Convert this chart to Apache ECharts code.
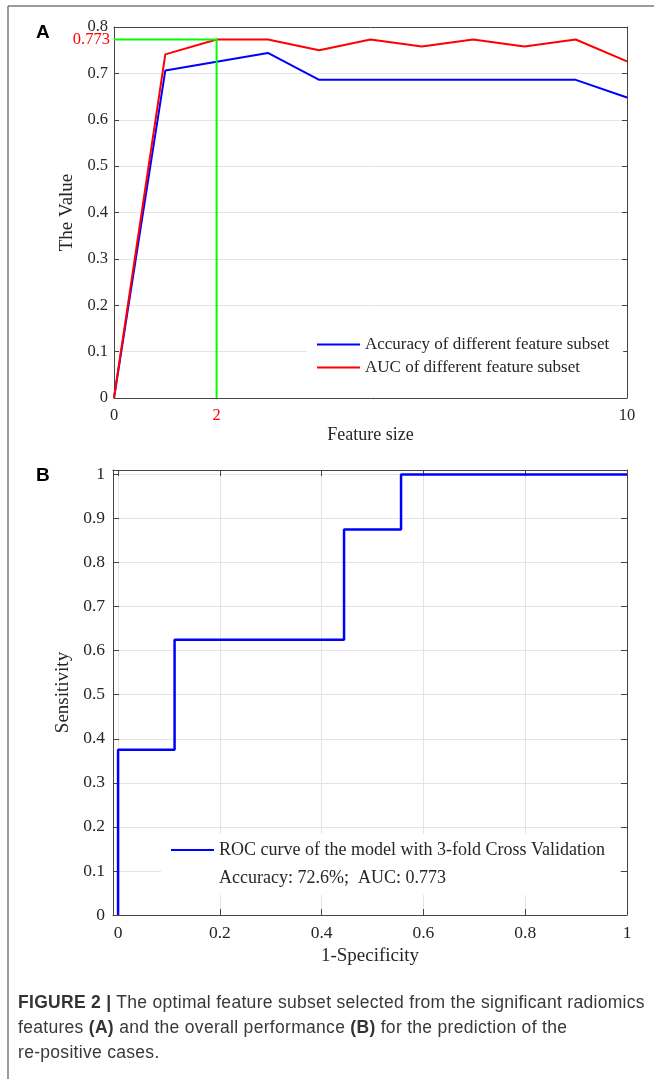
<!DOCTYPE html>
<html>
<head>
<meta charset="utf-8">
<script src="https://cdn.jsdelivr.net/npm/echarts@6/dist/echarts.min.js"></script>
<style>
  html, body { margin: 0; padding: 0; background: #fff; }
  #wrap { position: relative; width: 654px; height: 1079px; }
  #chart { width: 654px; height: 1079px; }
  #caption {
    position: absolute; left: 18px; top: 990px;
    font-family: 'Liberation Sans', Arial, sans-serif; font-size: 17.5px;
    letter-spacing: 0.3px; line-height: 25px; color: #383838; white-space: nowrap;
  }
  #caption b { color: #333; }
</style>
</head>
<body>
<div id="wrap">
  <div id="chart"></div>
  <div id="caption"><b>FIGURE 2 |</b> The optimal feature subset selected from the significant radiomics<br>features <b>(A)</b> and the overall performance <b>(B)</b> for the prediction of the<br>re-positive cases.</div>
</div>
<script>
// panel A: performance vs. size of feature subset
const featureSize = [0, 1, 2, 3, 4, 5, 6, 7, 8, 9, 10];
const accuracyA = [0, 0.706, 0.725, 0.744, 0.686, 0.686, 0.686, 0.686, 0.686, 0.686, 0.648];
const aucA = [0, 0.741, 0.773, 0.773, 0.750, 0.773, 0.758, 0.773, 0.758, 0.773, 0.726];
const bestSize = 2;
const bestAuc = 0.773;
const xTicksA = [0, 2, 10];

// panel B: ROC curve (3-fold CV)
const rocFpr = [0, 0, 0.111, 0.111, 0.444, 0.444, 0.556, 0.556, 1];
const rocTpr = [0, 0.375, 0.375, 0.625, 0.625, 0.875, 0.875, 1, 1];
const xTicksB = [0, 0.2, 0.4, 0.6, 0.8, 1];
const yTicksB = [0, 0.1, 0.2, 0.3, 0.4, 0.5, 0.6, 0.7, 0.8, 0.9, 1];

const legendA = ['Accuracy of different feature subset', 'AUC of different feature subset'];
const legendB = ['ROC curve of the model with 3-fold Cross Validation', 'Accuracy: 72.6%;  AUC: 0.773'];

const serif = 'Liberation Serif';
const sans = 'Liberation Sans';
const txt = '#262626';
const frame = '#444';
const gridCol = '#e4e4e4';

const labelA = { fontFamily: serif, fontSize: 16.5, color: txt };
const labelB = { fontFamily: serif, fontSize: 17.5, color: txt };

const chart = echarts.init(document.getElementById('chart'));

const option = {
  animation: false,
  backgroundColor: '#fff',
  grid: [
    { left: 114, top: 27, width: 513, height: 371 },
    { left: 113, top: 470, width: 514, height: 445 }
  ],
  xAxis: [
    {
      gridIndex: 0, type: 'value', min: 0, max: 10, position: 'bottom',
      axisLine: { show: true, lineStyle: { color: frame } },
      axisTick: { show: false },
      axisLabel: Object.assign({
        customValues: xTicksA, margin: 9,
        formatter: v => v === bestSize ? '{r|' + v + '}' : String(v),
        rich: { r: { color: '#ff0000', fontFamily: serif, fontSize: 16.5 } }
      }, labelA),
      splitLine: { show: false },
      name: 'Feature size', nameLocation: 'middle', nameGap: 28,
      nameTextStyle: { fontFamily: serif, fontSize: 18, color: txt }
    },
    {
      gridIndex: 0, type: 'value', min: 0, max: 10, position: 'top',
      axisLine: { show: true, onZero: false, lineStyle: { color: frame } },
      axisTick: { show: false }, axisLabel: { show: false }, splitLine: { show: false }
    },
    {
      gridIndex: 1, type: 'value', min: -0.01, max: 1, position: 'bottom',
      axisLine: { show: true, onZero: false, lineStyle: { color: frame } },
      axisTick: { show: true, inside: true, length: 6, customValues: xTicksB, lineStyle: { color: frame } },
      axisLabel: Object.assign({ customValues: xTicksB, margin: 9 }, labelB),
      splitLine: { show: true, lineStyle: { color: gridCol } },
      name: '1-Specificity', nameLocation: 'middle', nameGap: 32,
      nameTextStyle: { fontFamily: serif, fontSize: 19, color: txt }
    },
    {
      gridIndex: 1, type: 'value', min: -0.01, max: 1, position: 'top',
      axisLine: { show: true, onZero: false, lineStyle: { color: frame } },
      axisTick: { show: true, inside: true, length: 6, customValues: xTicksB, lineStyle: { color: frame } },
      axisLabel: { show: false }, splitLine: { show: false }
    }
  ],
  yAxis: [
    {
      gridIndex: 0, type: 'value', min: 0, max: 0.8, interval: 0.1,
      axisLine: { show: true, onZero: false, lineStyle: { color: frame } },
      axisTick: { show: true, inside: true, length: 5, lineStyle: { color: frame } },
      axisLabel: Object.assign({ margin: 6 }, labelA),
      splitLine: { show: true, lineStyle: { color: gridCol } },
      name: 'The Value', nameLocation: 'middle', nameRotate: 90, nameGap: 27,
      nameTextStyle: { fontFamily: serif, fontSize: 19, color: txt }
    },
    {
      gridIndex: 0, type: 'value', min: 0, max: 0.8, interval: 0.1, position: 'right',
      axisLine: { show: true, onZero: false, lineStyle: { color: frame } },
      axisTick: { show: true, inside: true, length: 5, lineStyle: { color: frame } },
      axisLabel: { show: false }, splitLine: { show: false }
    },
    {
      gridIndex: 1, type: 'value', min: 0, max: 1.01,
      axisLine: { show: true, onZero: false, lineStyle: { color: frame } },
      axisTick: { show: true, inside: true, length: 6, customValues: yTicksB, lineStyle: { color: frame } },
      axisLabel: Object.assign({ customValues: yTicksB, margin: 8 }, labelB),
      splitLine: { show: true, lineStyle: { color: gridCol } },
      name: 'Sensitivity', nameLocation: 'middle', nameRotate: 90, nameGap: 33,
      nameTextStyle: { fontFamily: serif, fontSize: 19, color: txt }
    },
    {
      gridIndex: 1, type: 'value', min: 0, max: 1.01, position: 'right',
      axisLine: { show: true, onZero: false, lineStyle: { color: frame } },
      axisTick: { show: true, inside: true, length: 6, customValues: yTicksB, lineStyle: { color: frame } },
      axisLabel: { show: false }, splitLine: { show: false }
    }
  ],
  legend: [
    {
      data: legendA, orient: 'vertical', left: 307, top: 331,
      padding: [5, 14, 6, 10], itemWidth: 43, itemHeight: 2, itemGap: 6,
      icon: 'rect', backgroundColor: '#fff', selectedMode: false,
      textStyle: { fontFamily: serif, fontSize: 17, color: txt }
    },
    {
      data: [{ name: legendB[0] }, { name: legendB[1], icon: 'none' }],
      orient: 'vertical', left: 161, top: 834,
      padding: [7, 14, 8, 10], itemWidth: 43, itemHeight: 2, itemGap: 10,
      icon: 'rect', backgroundColor: '#fff', selectedMode: false,
      textStyle: { fontFamily: serif, fontSize: 18, color: txt }
    }
  ],
  series: [
    {
      name: legendA[0], type: 'line', xAxisIndex: 0, yAxisIndex: 0,
      data: featureSize.map((x, i) => [x, accuracyA[i]]),
      symbol: 'none', color: '#0000ff', lineStyle: { color: '#0000ff', width: 2 }, z: 3
    },
    {
      name: legendA[1], type: 'line', xAxisIndex: 0, yAxisIndex: 0,
      data: featureSize.map((x, i) => [x, aucA[i]]),
      symbol: 'none', color: '#ff0000', lineStyle: { color: '#ff0000', width: 2 }, z: 3
    },
    {
      name: 'best', type: 'line', xAxisIndex: 0, yAxisIndex: 0,
      data: [
        {
          value: [0, bestAuc],
          label: {
            show: true, position: 'left', distance: 4, formatter: String(bestAuc),
            color: '#ff0000', fontFamily: serif, fontSize: 16.5
          }
        },
        [bestSize, bestAuc],
        [bestSize, 0]
      ],
      symbol: 'circle', symbolSize: 0.1, showSymbol: true, clip: false,
      color: '#00ff00', lineStyle: { color: '#00ff00', width: 2 }, z: 4, silent: true
    },
    {
      name: legendB[0], type: 'line', xAxisIndex: 2, yAxisIndex: 2,
      data: rocFpr.map((x, i) => [x, rocTpr[i]]),
      symbol: 'none', color: '#0000ff', lineStyle: { color: '#0000ff', width: 2.5 }, z: 3
    },
    {
      name: legendB[1], type: 'line', xAxisIndex: 2, yAxisIndex: 2,
      data: [], symbol: 'none', color: '#ffffff'
    }
  ],
  graphic: [
    { type: 'line', shape: { x1: 8, y1: 6, x2: 654, y2: 6 }, style: { stroke: '#7a7a7a', lineWidth: 1.5 } },
    { type: 'line', shape: { x1: 8, y1: 6, x2: 8, y2: 1079 }, style: { stroke: '#7a7a7a', lineWidth: 1.5 } },
    { type: 'text', style: { text: 'A', x: 36, y: 33, verticalAlign: 'middle', font: 'bold 19px ' + sans, fill: '#000' } },
    { type: 'text', style: { text: 'B', x: 36, y: 476, verticalAlign: 'middle', font: 'bold 19px ' + sans, fill: '#000' } }
  ]
};

chart.setOption(option);
window.addEventListener('resize', () => chart.resize());
</script>
</body>
</html>
